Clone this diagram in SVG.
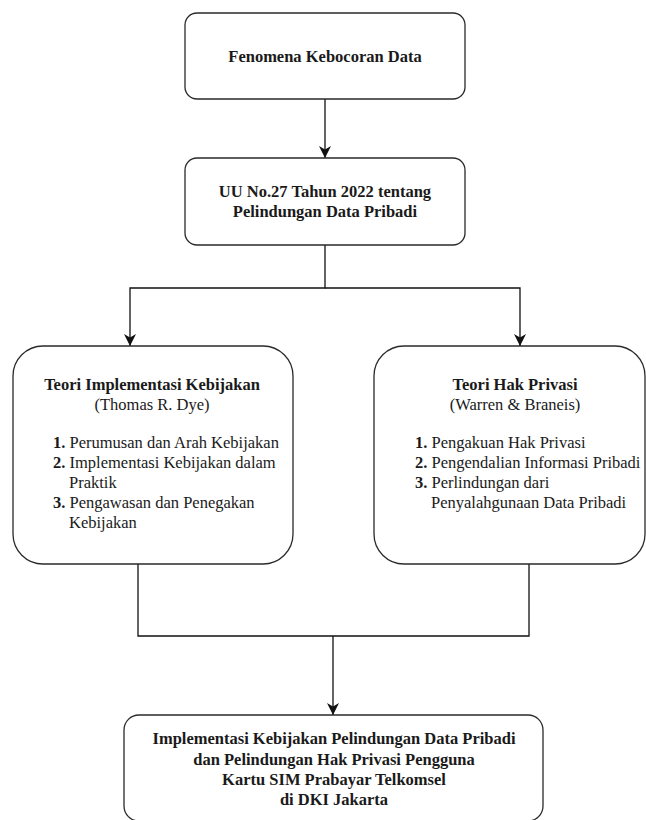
<svg xmlns="http://www.w3.org/2000/svg" width="646" height="820" viewBox="0 0 646 820" font-family="'Liberation Serif', Tinos, 'Times New Roman', 'DejaVu Serif', serif">
<defs>
<marker id="arr" viewBox="0 0 12 12" refX="12" refY="6" markerWidth="12" markerHeight="12" markerUnits="userSpaceOnUse" orient="auto">
<path d="M0,0 L12,6 L0,12 L3.5,6 z" fill="#111"/>
</marker>
<style>
.box{fill:#fff;stroke:#2a2a2a;stroke-width:1.3}
.ln{fill:none;stroke:#111;stroke-width:1.3}
.t{font-family:'Liberation Serif', Tinos, 'Times New Roman', 'DejaVu Serif', serif;font-size:16.5px;fill:#1a1a1a}
.c{text-anchor:middle}
.b{font-weight:bold}
</style>
</defs>
<rect width="646" height="820" fill="#fff"/>
<g id="connectors">
<path class="ln" d="M325,99 V158" marker-end="url(#arr)"/>
<path class="ln" d="M325,245 V288 H130 V346" marker-end="url(#arr)"/>
<path class="ln" d="M325,288 H520 V346" marker-end="url(#arr)"/>
<path class="ln" d="M138,564 V636 H529 V564"/>
<path class="ln" d="M333,636 V715" marker-end="url(#arr)"/>
</g>
<g id="node-fenomena" class="t">
<rect class="box" x="185" y="13" width="280" height="86" rx="12"/>
<text class="c b" x="325" y="62">Fenomena Kebocoran Data</text>
</g>
<g id="node-uu" class="t">
<rect class="box" x="185" y="158" width="280" height="87" rx="12"/>
<text class="c b" x="325" y="197">UU No.27 Tahun 2022 tentang</text>
<text class="c b" x="325" y="217">Pelindungan Data Pribadi</text>
</g>
<g id="node-implementasi" class="t">
<rect class="box" x="13" y="346" width="280" height="218" rx="30"/>
<text class="c b" x="152" y="390">Teori Implementasi Kebijakan</text>
<text class="c" x="152" y="410">(Thomas R. Dye)</text>
<text x="53" y="448"><tspan class="b">1. </tspan>Perumusan dan Arah Kebijakan</text>
<text x="53" y="468"><tspan class="b">2. </tspan>Implementasi Kebijakan dalam</text>
<text x="69" y="488">Praktik</text>
<text x="53" y="508"><tspan class="b">3. </tspan>Pengawasan dan Penegakan</text>
<text x="69" y="528">Kebijakan</text>
</g>
<g id="node-privasi" class="t">
<rect class="box" x="374" y="346" width="271" height="218" rx="30"/>
<text class="c b" x="515" y="390">Teori Hak Privasi</text>
<text class="c" x="515" y="410">(Warren &amp; Braneis)</text>
<text x="415" y="448"><tspan class="b">1. </tspan>Pengakuan Hak Privasi</text>
<text x="415" y="468"><tspan class="b">2. </tspan>Pengendalian Informasi Pribadi</text>
<text x="415" y="488"><tspan class="b">3. </tspan>Perlindungan dari</text>
<text x="431" y="508">Penyalahgunaan Data Pribadi</text>
</g>
<g id="node-hasil" class="t">
<rect class="box" x="124" y="715" width="419" height="106" rx="15"/>
<text class="c b" x="334" y="744">Implementasi Kebijakan Pelindungan Data Pribadi</text>
<text class="c b" x="334" y="765">dan Pelindungan Hak Privasi Pengguna</text>
<text class="c b" x="334" y="785">Kartu SIM Prabayar Telkomsel</text>
<text class="c b" x="334" y="805">di DKI Jakarta</text>
</g>
</svg>
